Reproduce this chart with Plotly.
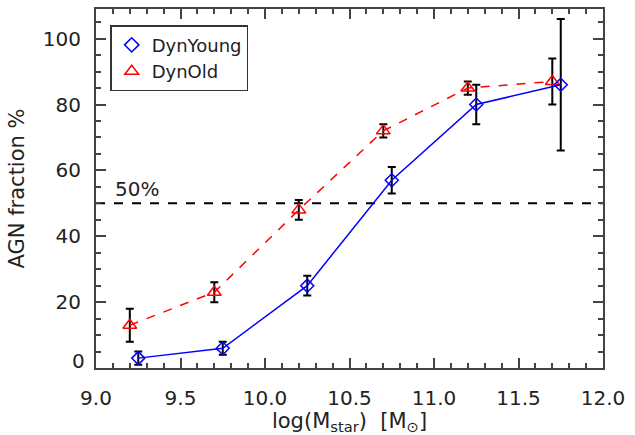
import plotly.graph_objects as go

# Stellar mass bins (log M_star) and AGN fractions with 1-sigma errors
young_mass = [9.25, 9.75, 10.25, 10.75, 11.25, 11.75]
young_frac = [3, 6, 25, 57, 80, 86]
young_err = [2, 2, 3, 4, 6, 20]

old_mass = [9.2, 9.7, 10.2, 10.7, 11.2, 11.7]
old_frac = [13, 23, 48, 72, 85, 87]
old_err = [5, 3, 3, 2, 2, 7]

threshold = 50
x_range = [9.0, 12.0]
y_range = [0, 109]
y_ticks = [20, 40, 60, 80, 100]

FONT = "DejaVu Sans"
INK = "#222222"
AXIS = "#444444"

fig = go.Figure()

# 50% reference line
fig.add_trace(go.Scatter(
    x=x_range, y=[threshold, threshold], mode="lines",
    line=dict(color="black", width=2, dash="dash"),
    showlegend=False, hoverinfo="skip"))

fig.add_trace(go.Scatter(
    x=old_mass, y=old_frac, mode="lines+markers",
    line=dict(color="red", width=1.5, dash="dash"),
    marker=dict(symbol="triangle-up-open", size=12, color="red", line=dict(width=1.5)),
    error_y=dict(type="data", array=old_err, color="black", thickness=2, width=4),
    showlegend=False))

fig.add_trace(go.Scatter(
    x=young_mass, y=young_frac, mode="lines+markers",
    line=dict(color="blue", width=1.5),
    marker=dict(symbol="diamond-open", size=10, color="blue", line=dict(width=1.5)),
    error_y=dict(type="data", array=young_err, color="black", thickness=2, width=4),
    showlegend=False))

# Legend entries (symbols only)
fig.add_trace(go.Scatter(
    x=[None], y=[None], mode="markers", name="DynYoung",
    marker=dict(symbol="diamond-open", size=11, color="blue", line=dict(width=1.5))))
fig.add_trace(go.Scatter(
    x=[None], y=[None], mode="markers", name="DynOld",
    marker=dict(symbol="triangle-up-open", size=12, color="red", line=dict(width=1.5))))

fig.add_annotation(
    x=9.1, y=threshold, xref="x", yref="y", text="50%", showarrow=False,
    xanchor="left", yanchor="bottom", yshift=0,
    font=dict(family=FONT, size=20, color=INK))

# bottom y label sits a little above the corner, clear of the x labels
fig.add_annotation(
    x=0, y=0, xref="paper", yref="y", text="0", showarrow=False,
    xanchor="right", yanchor="middle", xshift=-9, yshift=7,
    font=dict(family=FONT, size=20, color=INK))

axis_common = dict(
    showline=True, linecolor=AXIS, linewidth=2, mirror="ticks",
    ticks="inside", ticklen=10, tickwidth=1.5, tickcolor=AXIS,
    showgrid=False, zeroline=False, automargin=False,
    tickfont=dict(family=FONT, size=20, color=INK),
)

fig.update_xaxes(
    range=x_range, dtick=0.5, tick0=9.0, tickformat=".1f", ticklabelstandoff=11,
    minor=dict(dtick=0.1, ticklen=5, ticks="inside", tickcolor=AXIS, tickwidth=1.5),
    title=dict(text="log(M<sub>star</sub>)  [M<sub>⊙</sub>]",
               font=dict(family=FONT, size=21, color=INK), standoff=0),
    **axis_common)
fig.update_yaxes(
    range=y_range, tickvals=y_ticks, ticklabelstandoff=9,
    minor=dict(dtick=5, ticklen=5, ticks="inside", tickcolor=AXIS, tickwidth=1.5),
    title=dict(text="AGN fraction %", font=dict(family=FONT, size=21, color=INK), standoff=12),
    **axis_common)

fig.update_layout(
    width=635, height=435,
    margin=dict(l=96, r=32, t=9, b=67),
    plot_bgcolor="white", paper_bgcolor="white",
    legend=dict(x=0.028, y=0.955, xanchor="left", yanchor="top",
                bordercolor="#333333", borderwidth=1.5, bgcolor="white",
                font=dict(family=FONT, size=18, color=INK),
                itemwidth=30, tracegroupgap=2),
    showlegend=True,
)

fig.write_html("out.html")
